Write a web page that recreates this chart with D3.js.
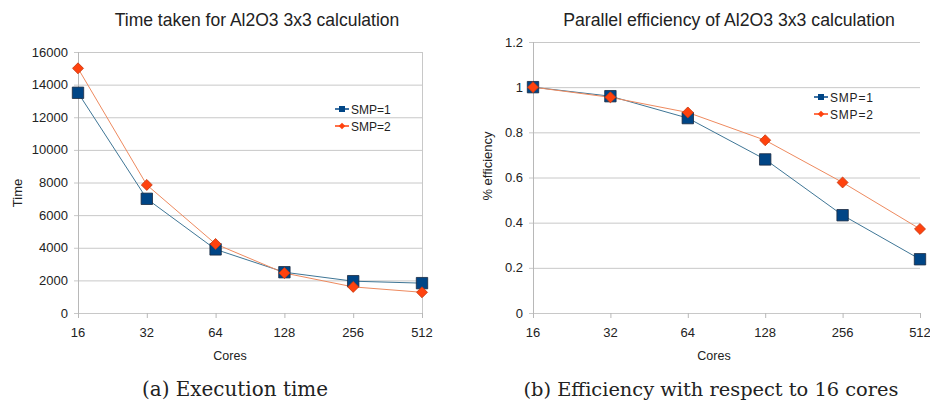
<!DOCTYPE html>
<html><head><meta charset="utf-8">
<script src="https://cdn.jsdelivr.net/npm/d3@7"></script>
<style>
body{margin:0;background:#fff;}
svg{display:block;}
</style></head>
<body>
<svg id="c" width="930" height="402"></svg>
<script>
const cores = ["16","32","64","128","256","512"];
const timeSMP1 = [13500, 7000, 3900, 2500, 1950, 1830];
const timeSMP2 = [15000, 7850, 4230, 2450, 1600, 1270];
const effSMP1 = [1.0, 0.96, 0.863, 0.68, 0.433, 0.238];
const effSMP2 = [1.0, 0.955, 0.888, 0.765, 0.578, 0.372];
const timeTicks = [0,2000,4000,6000,8000,10000,12000,14000,16000];
const effTicks = [0,0.2,0.4,0.6,0.8,1,1.2];
const seriesNames = ["SMP=1","SMP=2"];
const colors = ["#004586","#ff420e"];
const lineColors = ["#3f7696","#ee8a5f"];

const svg = d3.select("#c");
const sans = "Liberation Sans, Arial, sans-serif";
const serif = "DejaVu Serif, serif";

function fitText(sel, w){
  const n = sel.node();
  const cur = n.getComputedTextLength();
  const fs = parseFloat(sel.attr("font-size"));
  sel.attr("font-size", fs * w / cur);
}

function panel(o){
  const g = svg.append("g");
  const x = d3.scalePoint().domain(cores).range([o.x0, o.x1]);
  const y = d3.scaleLinear().domain([0, o.ymax]).range([o.yb, o.yt]);
  g.selectAll(".grid").data(o.ticks).join("line")
    .attr("x1", o.x0 - 4).attr("x2", o.x1)
    .attr("y1", d => y(d)+0.5).attr("y2", d => y(d)+0.5)
    .attr("stroke", "#c8c8c8").attr("stroke-width", 1);
  g.append("line").attr("x1", o.x0+0.5).attr("x2", o.x0+0.5)
    .attr("y1", o.yt).attr("y2", o.yb+5).attr("stroke","#b8b8b8");
  if (o.rightBorder) g.append("line").attr("x1", o.x1+0.5).attr("x2", o.x1+0.5)
    .attr("y1", o.yt).attr("y2", o.yb+5).attr("stroke","#c8c8c8");
  g.selectAll(".xt").data(cores).join("line")
    .attr("x1", d => x(d)+0.5).attr("x2", d => x(d)+0.5)
    .attr("y1", o.yb).attr("y2", o.yb+5).attr("stroke","#b8b8b8");
  g.selectAll(".yl").data(o.ticks).join("text")
    .attr("x", o.x0 - 10).attr("y", d => y(d)+4.5)
    .attr("text-anchor","end").attr("font-family", sans).attr("font-size", 13)
    .attr("fill","#222").text(d => String(d));
  g.selectAll(".xl").data(cores).join("text")
    .attr("x", d => x(d)).attr("y", o.yb + 24)
    .attr("text-anchor","middle").attr("font-family", sans).attr("font-size", 13)
    .attr("fill","#222").text(d => d);
  const t = g.append("text").attr("x", o.tx).attr("y", 26).attr("text-anchor","middle")
    .attr("font-family", sans).attr("font-size", 16).attr("fill","#222").text(o.title);
  fitText(t, o.tw);
  g.append("text").attr("x", o.cx).attr("y", 360).attr("text-anchor","middle")
    .attr("font-family", sans).attr("font-size", 12.5).attr("fill","#222").text("Cores");
  g.append("text").attr("transform", `translate(${o.ylx},${o.yly}) rotate(-90)`)
    .attr("text-anchor","middle").attr("font-family", sans).attr("font-size", 13)
    .attr("fill","#222").text(o.ylabel);
  o.series.forEach((vals, i) => {
    const line = d3.line().x((d,j) => x(cores[j])).y(d => y(d));
    g.append("path").attr("d", line(vals)).attr("fill","none")
      .attr("stroke", lineColors[i]).attr("stroke-width", 1);
  });
  o.series.forEach((vals, i) => {
    g.selectAll(".m"+i).data(vals).join("path")
      .attr("transform", (d,j) => `translate(${x(cores[j])},${y(d)})` + (i===1 ? " rotate(45)" : ""))
      .attr("d", d3.symbol(d3.symbolSquare, i === 0 ? 130 : 60)())
      .attr("fill", colors[i]).attr("stroke", i===0 ? "#1a2a40" : "#c83a10").attr("stroke-width", 0.8);
  });
  seriesNames.forEach((n, i) => {
    const ly = o.ly + i*17;
    g.append("line").attr("x1", o.lx-7).attr("x2", o.lx+7).attr("y1", ly).attr("y2", ly)
      .attr("stroke", colors[i]).attr("stroke-width", 1.5);
    g.append("path").attr("transform", `translate(${o.lx},${ly})` + (i===1?" rotate(45)":""))
      .attr("d", d3.symbol(d3.symbolSquare, i===0?36:22)()).attr("fill", colors[i]);
    g.append("text").attr("x", o.lx+9).attr("y", ly+4.5).attr("font-family", sans)
      .attr("font-size", 12).attr("letter-spacing", o.ls).attr("fill","#222").text(n);
  });
  const c = g.append("text").attr("x", o.capx).attr("y", 396).attr("text-anchor","middle")
    .attr("font-family", serif).attr("font-size", 18).attr("fill","#222").text(o.caption);
  fitText(c, o.capw);
}

panel({x0:78, x1:422, yt:52, yb:313, ymax:16000, ticks:timeTicks,
  series:[timeSMP1,timeSMP2], title:"Time taken for Al2O3 3x3 calculation", tx:257, tw:285,
  cx:230, ylx:21.5, yly:193, ylabel:"Time", lx:342, ly:109, ls:0, rightBorder:true,
  caption:"(a) Execution time", capx:235, capw:186});
panel({x0:533, x1:920, yt:42, yb:313, ymax:1.2, ticks:effTicks,
  series:[effSMP1,effSMP2], title:"Parallel efficiency of Al2O3 3x3 calculation", tx:729, tw:332,
  cx:714, ylx:491.5, yly:166, ylabel:"% efficiency", lx:821, ly:97, ls:0.8, rightBorder:false,
  caption:"(b) Efficiency with respect to 16 cores", capx:711, capw:375});
</script>
</body></html>
